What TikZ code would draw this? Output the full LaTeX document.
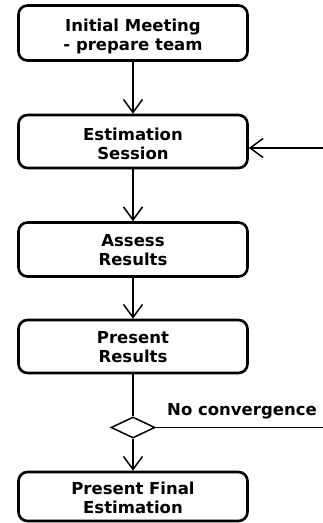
\documentclass[tikz,border=0pt]{standalone}
\usepackage{fontspec}
\setmainfont{DejaVu Sans}
\usetikzlibrary{arrows.meta,shapes.geometric}
\begin{document}
\begin{tikzpicture}[x=1pt,y=-1pt,
  lbl/.style={font=\bfseries\fontsize{16.5}{19}\selectfont,align=center,inner sep=0pt},
  stepbox/.style={draw,line width=2.6pt,rounded corners=9pt,minimum width=229pt,inner sep=0pt},
  flow/.style={line width=1.5pt,-{Straight Barb[open,length=13pt,width=19pt,line width=1.5pt]}},
  plain/.style={line width=1.5pt}]
\useasboundingbox (0,0) rectangle (323,523);
% activity boxes
\node[stepbox,minimum height=55pt] (init) at (133,33) {};
\node[stepbox,minimum height=53pt] (est) at (133,141.5) {};
\node[stepbox,minimum height=54pt] (assess) at (133,249.5) {};
\node[stepbox,minimum height=53pt] (pres) at (133,346.5) {};
\node[draw,diamond,line width=1.5pt,minimum width=44pt,minimum height=21pt,inner sep=0pt,aspect=2] (dec) at (133,427.5) {};
\node[stepbox,minimum height=49pt] (final) at (133,496.5) {};
% box captions, set a little below centre
\node[lbl] (initT) at ([yshift=-3pt]init.center) {Initial Meeting\\- prepare team};
\node[lbl] (estT) at ([yshift=-2.5pt]est.center) {Estimation\\Session};
\node[lbl] (assessT) at ([yshift=-1pt]assess.center) {Assess\\Results};
\node[lbl] (presT) at ([yshift=-1pt]pres.center) {Present\\Results};
\node[lbl] (finalT) at ([yshift=-1pt]final.center) {Present Final\\Estimation};
% connectors
\coordinate (loopin) at (323,148);
\coordinate (loopout) at (323,427.5);
\draw[flow] (init) -- (est);
\draw[flow] (est) -- (assess);
\draw[flow] (assess) -- (pres);
\draw[plain] (pres) -- (dec);
\draw[flow] (dec) -- (final);
\draw[plain] (dec.east) -- (loopout);
\draw[flow] (loopin) -- (est.east |- loopin);
\node[anchor=south west,lbl] (nolab) at (167,419) {No convergence};
\end{tikzpicture}
\end{document}
